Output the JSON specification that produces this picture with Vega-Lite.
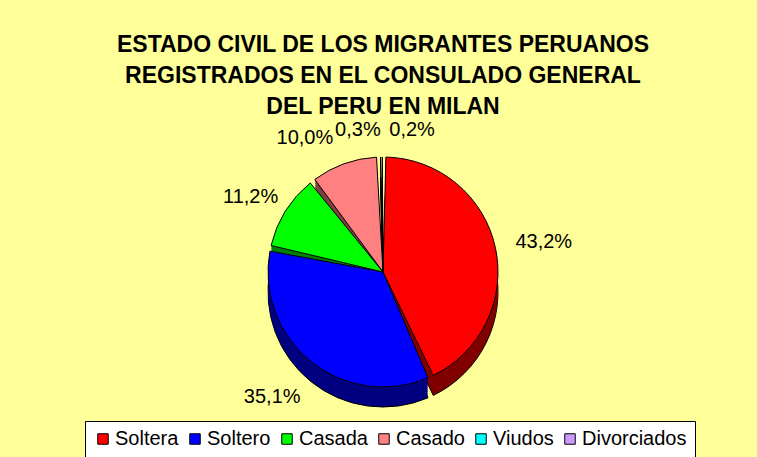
{
  "$schema": "https://vega.github.io/schema/vega-lite/v6.json",
  "autosize": {"type": "none"},
  "width": 748,
  "height": 370,
  "padding": {"left": 9, "top": 87, "right": 0, "bottom": 0},
  "background": "#FFFF99",
  "config": {
    "view": {"stroke": null},
    "font": "Liberation Sans"
  },
  "title": {
    "text": ["ESTADO CIVIL DE LOS MIGRANTES PERUANOS", "REGISTRADOS EN EL CONSULADO GENERAL", "DEL PERU EN MILAN"],
    "font": "Liberation Sans",
    "fontSize": 23,
    "fontWeight": "bold",
    "color": "black",
    "anchor": "middle",
    "lineHeight": 31,
    "offset": -32
  },
  "data": {
    "values": [
      {"categoria": "Soltera", "porcentaje": 43.2, "etiqueta": "43,2%", "orden": 1},
      {"categoria": "Soltero", "porcentaje": 35.1, "etiqueta": "35,1%", "orden": 2},
      {"categoria": "Casada", "porcentaje": 11.2, "etiqueta": "11,2%", "orden": 3},
      {"categoria": "Casado", "porcentaje": 10.0, "etiqueta": "10,0%", "orden": 4},
      {"categoria": "Viudos", "porcentaje": 0.3, "etiqueta": "0,3%", "orden": 5},
      {"categoria": "Divorciados", "porcentaje": 0.2, "etiqueta": "0,2%", "orden": 6}
    ]
  },
  "encoding": {
    "theta": {"field": "porcentaje", "type": "quantitative", "stack": true},
    "order": {"field": "orden", "type": "quantitative"}
  },
  "layer": [
    {"mark": {"type": "arc", "radius": 115, "yOffset": 20, "padAngle": 0.05, "stroke": "black", "strokeWidth": 1},
     "encoding": {"fill": {"field": "categoria", "type": "nominal", "sort": {"field": "orden"}, "scale": {"range": ["#800000", "#000080", "#008000", "#804040", "#008080", "#664D80"]}, "legend": null}}},
    {"mark": {"type": "arc", "radius": 115, "yOffset": 18, "padAngle": 0.05},
     "encoding": {"fill": {"field": "categoria", "type": "nominal", "sort": {"field": "orden"}, "legend": null}}},
    {"mark": {"type": "arc", "radius": 115, "yOffset": 16, "padAngle": 0.05},
     "encoding": {"fill": {"field": "categoria", "type": "nominal", "sort": {"field": "orden"}, "legend": null}}},
    {"mark": {"type": "arc", "radius": 115, "yOffset": 14, "padAngle": 0.05},
     "encoding": {"fill": {"field": "categoria", "type": "nominal", "sort": {"field": "orden"}, "legend": null}}},
    {"mark": {"type": "arc", "radius": 115, "yOffset": 12, "padAngle": 0.05},
     "encoding": {"fill": {"field": "categoria", "type": "nominal", "sort": {"field": "orden"}, "legend": null}}},
    {"mark": {"type": "arc", "radius": 115, "yOffset": 10, "padAngle": 0.05},
     "encoding": {"fill": {"field": "categoria", "type": "nominal", "sort": {"field": "orden"}, "legend": null}}},
    {"mark": {"type": "arc", "radius": 115, "yOffset": 8, "padAngle": 0.05},
     "encoding": {"fill": {"field": "categoria", "type": "nominal", "sort": {"field": "orden"}, "legend": null}}},
    {"mark": {"type": "arc", "radius": 115, "yOffset": 6, "padAngle": 0.05},
     "encoding": {"fill": {"field": "categoria", "type": "nominal", "sort": {"field": "orden"}, "legend": null}}},
    {"mark": {"type": "arc", "radius": 115, "yOffset": 4, "padAngle": 0.05},
     "encoding": {"fill": {"field": "categoria", "type": "nominal", "sort": {"field": "orden"}, "legend": null}}},
    {"mark": {"type": "arc", "radius": 115, "yOffset": 2, "padAngle": 0.05},
     "encoding": {"fill": {"field": "categoria", "type": "nominal", "sort": {"field": "orden"}, "legend": null}}},
    {"mark": {"type": "arc", "radius": 115, "padAngle": 0.05, "stroke": "black", "strokeWidth": 1},
     "encoding": {"color": {"field": "categoria", "type": "nominal", "title": null,
       "scale": {"domain": ["Soltera", "Soltero", "Casada", "Casado", "Viudos", "Divorciados"], "range": ["#FF0000", "#0000FF", "#00FF00", "#FF8080", "#00FFFF", "#CC99FF"]},
       "legend": {
         "title": null,
         "orient": "none",
         "legendX": 76,
         "legendY": 334,
         "direction": "horizontal",
         "symbolType": "square",
         "symbolSize": 110,
         "symbolStrokeColor": "black",
         "symbolStrokeWidth": 1,
         "labelFont": "Liberation Sans",
         "labelFontSize": 20,
         "labelColor": "black",
         "strokeColor": "black",
         "fillColor": "white",
         "padding": 8,
         "columnPadding": 6,
         "labelOffset": 2,
         "cornerRadius": 0
       }}}},
    {"mark": {"type": "text", "radius": 142, "dx": 22, "fontSize": 20, "font": "Liberation Sans", "color": "black"},
     "encoding": {"text": {"condition": {"test": "datum.orden == 1", "field": "etiqueta"}, "value": ""}}},
    {"mark": {"type": "text", "radius": 142, "dx": -22, "dy": 14, "fontSize": 20, "font": "Liberation Sans", "color": "black"},
     "encoding": {"text": {"condition": {"test": "datum.orden == 2", "field": "etiqueta"}, "value": ""}}},
    {"mark": {"type": "text", "radius": 142, "dx": -12, "fontSize": 20, "font": "Liberation Sans", "color": "black"},
     "encoding": {"text": {"condition": {"test": "datum.orden == 3", "field": "etiqueta"}, "value": ""}}},
    {"mark": {"type": "text", "radius": 142, "dx": -30, "fontSize": 20, "font": "Liberation Sans", "color": "black"},
     "encoding": {"text": {"condition": {"test": "datum.orden == 4", "field": "etiqueta"}, "value": ""}}},
    {"mark": {"type": "text", "radius": 142, "dx": -22, "fontSize": 20, "font": "Liberation Sans", "color": "black"},
     "encoding": {"text": {"condition": {"test": "datum.orden == 5", "field": "etiqueta"}, "value": ""}}},
    {"mark": {"type": "text", "radius": 142, "dx": 30, "fontSize": 20, "font": "Liberation Sans", "color": "black"},
     "encoding": {"text": {"condition": {"test": "datum.orden == 6", "field": "etiqueta"}, "value": ""}}}
  ]
}
